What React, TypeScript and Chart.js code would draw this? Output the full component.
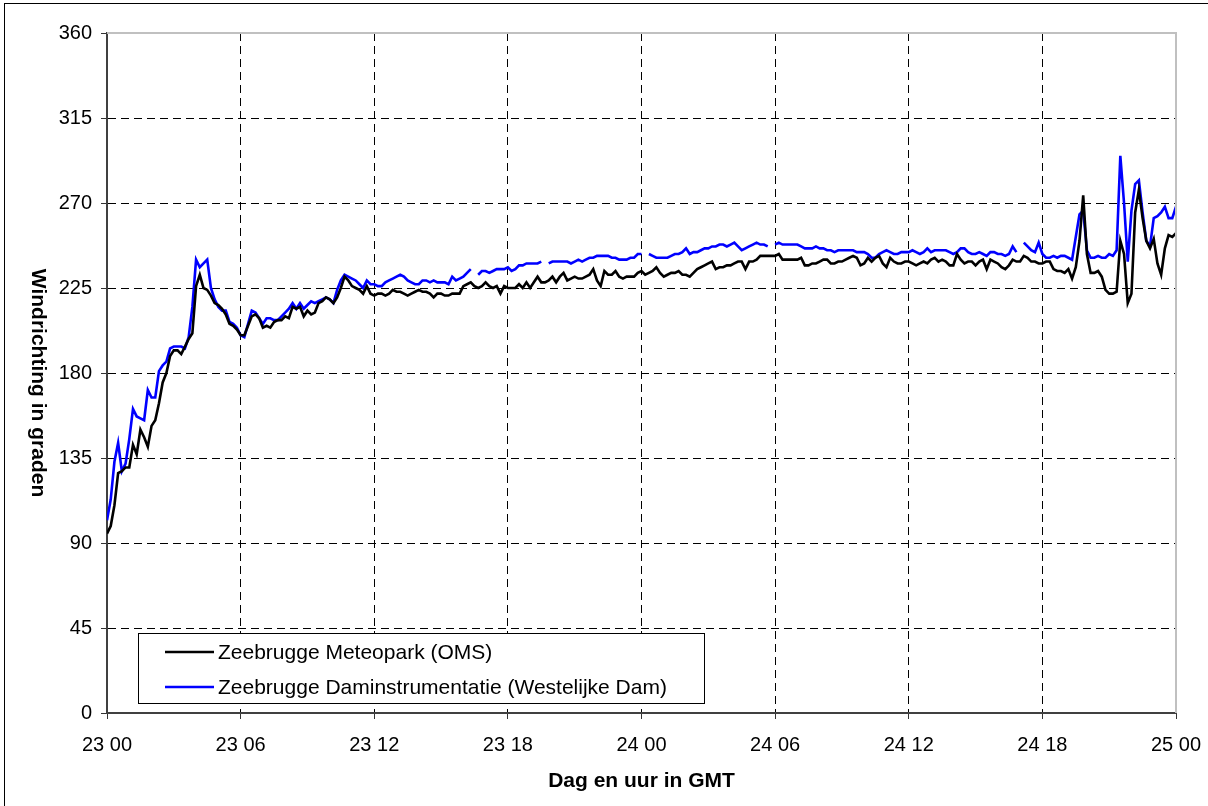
import { useEffect, useRef } from "react";
import { Chart, registerables } from "chart.js";

Chart.register(...registerables);

// ---- data (10-minute values, 23 00 .. 25 00 GMT) ----
const X_TICK_LABELS = ["23 00", "23 06", "23 12", "23 18", "24 00", "24 06", "24 12", "24 18", "25 00"];
const Y_TICK_VALUES = [0, 45, 90, 135, 180, 225, 270, 315, 360];
const SERIES_LABELS = [
  "Zeebrugge Meteopark (OMS)",
  "Zeebrugge Daminstrumentatie (Westelijke Dam)",
];
const X_TITLE = "Dag en uur in GMT";
const Y_TITLE = "Windrichting in graden";

const METEOPARK: (number | null)[] = [
  95, 99, 110, 127, 128, 130,
  130, 142, 137, 150, 146, 141,
  152, 155, 164, 175, 180, 189,
  192, 192, 190, 194, 198, 201,
  226, 232, 225, 224, 221, 217,
  216, 214, 211, 206, 205, 203,
  200, 200, 205, 210, 211, 209,
  204, 205, 204, 207, 208, 208,
  210, 209, 215, 214, 215, 210,
  213, 211, 212, 217, 218, 220,
  219, 217, 220, 225, 231, 229,
  226, 225, 224, 222, 226, 222,
  221, 222, 222, 221, 222, 224,
  223, 223, 222, 221, 222, 223,
  224, 223, 223, 222, 220, 222,
  222, 221, 221, 222, 222, 222,
  226, 227, 228, 226, 225, 226,
  228, 226, 225, 226, 222, 226,
  225, 225, 225, 227, 225, 228,
  225, 228, 231, 228, 228, 229,
  231, 228, 231, 233, 229, 230,
  231, 230, 230, 231, 232, 235,
  229, 226, 234, 232, 232, 234,
  231, 230, 231, 231, 231, 233,
  234, 232, 233, 234, 236, 233,
  231, 232, 233, 233, 234, 232,
  232, 231, 233, 235, 236, 237,
  238, 239, 235, 236, 236, 237,
  237, 238, 239, 239, 235, 239,
  239, 240, 242, 242, 242, 242,
  242, 243, 240, 240, 240, 240,
  240, 241, 237, 237, 238, 238,
  239, 240, 240, 238, 238, 239,
  239, 240, 241, 242, 241, 237,
  238, 241, 239, 241, 242, 238,
  236, 241, 239, 238, 238, 239,
  239, 238, 237, 238, 239, 238,
  240, 241, 239, 240, 239, 237,
  237, 243, 240, 238, 239, 239,
  237, 239, 240, 235, 240, 239,
  238, 236, 235, 237, 240, 239,
  239, 242, 241, 239, 239, 238,
  238, 239, 239, 235, 234, 234,
  233, 235, 230, 236, 250, 274,
  243, 233, 233, 234, 231, 224,
  222, 222, 223, 250, 243, 217,
  222, 265, 277, 262, 250, 246,
  251, 238, 232, 246, 253, 252,
  254,
];

const DAMINSTRUMENTATIE: (number | null)[] = [
  102, 113, 133, 143, 128, 132,
  145, 161, 157, 156, 155, 171,
  167, 167, 181, 184, 186, 193,
  194, 194, 194, 193, 199, 215,
  240, 236, 238, 240, 225, 219,
  215, 213, 213, 207, 206, 204,
  200, 199, 206, 213, 212, 209,
  206, 209, 209, 208, 208, 210,
  212, 214, 217, 214, 217, 214,
  216, 218, 217, 218, 219, 220,
  219, 217, 224, 229, 232, 231,
  230, 229, 227, 225, 229, 227,
  227, 226, 226, 228, 229, 230,
  231, 232, 231, 229, 228, 227,
  227, 229, 229, 228, 229, 228,
  228, 228, 227, 231, 229, 230,
  231, 233, 235, null, 232, 234,
  234, 233, 234, 235, 235, 235,
  236, 234, 235, 237, 237, 238,
  238, 238, 238, 239, null, 238,
  239, 239, 239, 239, 239, 238,
  239, 240, 239, 240, 241, 241,
  242, 242, 242, 242, 241, 241,
  240, 240, 240, 241, 241, 243,
  243, null, 243, 242, 241, 241,
  241, 241, 242, 243, 243, 244,
  246, 243, 244, 244, 245, 246,
  246, 247, 247, 248, 248, 247,
  248, 249, 247, 245, 246, 247,
  248, 249, 248, 248, 247, null,
  248, 249, 248, 248, 248, 248,
  248, 247, 246, 246, 246, 247,
  246, 246, 245, 245, 244, 245,
  245, 245, 245, 245, 244, 244,
  244, 243, 241, 241, 243, 244,
  245, 244, 243, 243, 244, 244,
  244, 245, 244, 243, 244, 246,
  244, 245, 245, 245, 245, 244,
  243, 244, 246, 246, 244, 243,
  243, 244, 243, 242, 244, 244,
  243, 243, 242, 243, 247, 244,
  null, 249, 247, 245, 244, 249,
  243, 241, 241, 242, 241, 242,
  242, 241, 240, 252, 264, 266,
  245, 241, 241, 242, 241, 241,
  243, 242, 245, 295, 270, 239,
  266, 280, 282, 265, 250, 247,
  262, 263, 265, 268, 262, 262,
  268,
];

const FONT = "'Liberation Sans', Arial, Helvetica, sans-serif";
const SERIES_COLORS = ["#000000", "#0000ff"];

const decorPlugin = {
  id: "decor",
  beforeDraw(chart: any) {
    const ctx = chart.ctx;
    ctx.save();
    ctx.fillStyle = "#ffffff";
    ctx.fillRect(0, 0, chart.width, chart.height);
    ctx.strokeStyle = "#000000";
    ctx.lineWidth = 1;
    ctx.strokeRect(4.5, 3.5, chart.width + 100, chart.height + 100);
    ctx.restore();
  },
  afterDraw(chart: any) {
    const ctx = chart.ctx;
    const a = chart.chartArea;
    ctx.save();
    // plot-area top/right border (grey)
    ctx.strokeStyle = "#c0c0c0";
    ctx.lineWidth = 2;
    ctx.beginPath();
    ctx.moveTo(a.left, a.top);
    ctx.lineTo(a.right, a.top);
    ctx.lineTo(a.right, a.bottom);
    ctx.stroke();

    // y-axis title, reading top to bottom
    ctx.fillStyle = "#000000";
    ctx.font = `bold 21px ${FONT}`;
    ctx.translate(38, (a.top + a.bottom) / 2 + 10);
    ctx.rotate(Math.PI / 2);
    ctx.textAlign = "center";
    ctx.textBaseline = "middle";
    ctx.fillText(Y_TITLE, 0, 0);
    ctx.restore();

    // legend box
    ctx.save();
    const lx = 138.5, ly = 633.5, lw = 566, lh = 70;
    ctx.fillStyle = "#ffffff";
    ctx.fillRect(lx, ly, lw, lh);
    ctx.strokeStyle = "#000000";
    ctx.lineWidth = 1;
    ctx.strokeRect(lx, ly, lw, lh);
    ctx.font = `21px ${FONT}`;
    ctx.textBaseline = "middle";
    ctx.textAlign = "left";
    chart.data.datasets.forEach((ds: any, i: number) => {
      const y = 652 + i * 35;
      ctx.strokeStyle = ds.borderColor;
      ctx.lineWidth = 2.6;
      ctx.beginPath();
      ctx.moveTo(165, y);
      ctx.lineTo(214, y);
      ctx.stroke();
      ctx.fillStyle = "#000000";
      ctx.fillText(ds.label, 218, y + 1);
    });
    ctx.restore();
  },
};

export default function App() {
  const ref = useRef<HTMLCanvasElement>(null);

  useEffect(() => {
    document.body.style.margin = "0";
    const canvas = ref.current;
    if (!canvas) return;
    const toPoints = (arr: (number | null)[]) => arr.map((v, i) => ({ x: i / 6, y: v }));

    const chart = new Chart(canvas, {
      type: "line",
      data: {
        datasets: [
          {
            label: SERIES_LABELS[0],
            data: toPoints(METEOPARK) as any,
            borderColor: SERIES_COLORS[0],
            backgroundColor: SERIES_COLORS[0],
            borderWidth: 2.6,
            pointRadius: 0,
            tension: 0,
            spanGaps: false,
          },
          {
            label: SERIES_LABELS[1],
            data: toPoints(DAMINSTRUMENTATIE) as any,
            borderColor: SERIES_COLORS[1],
            backgroundColor: SERIES_COLORS[1],
            borderWidth: 2.6,
            pointRadius: 0,
            tension: 0,
            spanGaps: false,
          },
        ],
      },
      options: {
        responsive: false,
        animation: false,
        layout: { padding: { left: 0, top: 33, right: 32, bottom: 0 } },
        plugins: {
          legend: { display: false },
          tooltip: { enabled: false },
        },
        scales: {
          x: {
            type: "linear",
            min: 0,
            max: 48,
            afterFit: (s: any) => {
              s.height = 93;
              s.paddingLeft = 0;
              s.paddingRight = 0;
            },
            ticks: {
              stepSize: 6,
              autoSkip: false,
              maxRotation: 0,
              padding: 14,
              color: "#000000",
              font: { family: FONT, size: 20 },
              callback: (v: any) => X_TICK_LABELS[Math.round(Number(v) / 6)] ?? "",
            },
            grid: {
              color: (c: any) => (c.tick && c.tick.value === 48 ? "rgba(0,0,0,0)" : "#000000"),
              lineWidth: 1,
              tickLength: 6,
              tickColor: "#333333",
              tickWidth: 1,
            },
            border: { display: true, color: "#404040", width: 2, dash: [8, 5] },
            title: {
              display: true,
              text: X_TITLE,
              color: "#000000",
              font: { family: FONT, size: 21, weight: "bold" },
              padding: { top: 0, bottom: 12 },
            },
          },
          y: {
            type: "linear",
            min: 0,
            max: 360,
            afterFit: (s: any) => {
              s.width = 107;
            },
            afterBuildTicks: (s: any) => {
              s.ticks = Y_TICK_VALUES.map((v) => ({ value: v }));
            },
            ticks: {
              padding: 9,
              color: "#000000",
              font: { family: FONT, size: 20 },
            },
            grid: {
              color: (c: any) => (c.tick && c.tick.value === 360 ? "rgba(0,0,0,0)" : "#000000"),
              lineWidth: 1,
              tickLength: 6,
              tickColor: "#333333",
              tickWidth: 1,
            },
            border: { display: true, color: "#404040", width: 2, dash: [8, 5] },
            title: { display: false },
          },
        },
      } as any,
      plugins: [decorPlugin],
    });

    return () => chart.destroy();
  }, []);

  return (
    <div style={{ width: 1208, height: 806 }}>
      <canvas ref={ref} width={1208} height={806} style={{ display: "block" }} />
    </div>
  );
}
